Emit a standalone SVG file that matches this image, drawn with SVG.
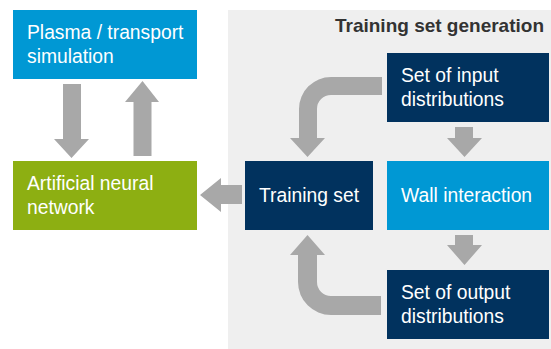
<svg xmlns="http://www.w3.org/2000/svg" width="551" height="349" viewBox="0 0 551 349">
  <style>
    .lbl { font-family: "Liberation Sans", Arial, sans-serif; font-size: 19.3px; fill: #ffffff; }
    .title { font-family: "Liberation Sans", Arial, sans-serif; font-size: 19px; font-weight: bold; fill: #333333; }
    .sky { fill: #0098d4; }
    .navy { fill: #01325e; }
    .leaf { fill: #8daf12; }
    .arrow { fill: #a8a8a8; }
  </style>
  <rect width="551" height="349" fill="#ffffff"/>

  <!-- training set generation panel -->
  <g id="panel">
    <rect x="228" y="10" width="323" height="339" fill="#efefef"/>
    <text class="title" x="544" y="32" text-anchor="end">Training set generation</text>
  </g>

  <g id="plasma">
    <rect class="sky" x="13" y="10" width="184" height="69"/>
    <text class="lbl" x="27" y="39">Plasma / transport</text>
    <text class="lbl" x="27" y="63">simulation</text>
  </g>

  <g id="ann">
    <rect class="leaf" x="13" y="161" width="184" height="69"/>
    <text class="lbl" x="27" y="190">Artificial neural</text>
    <text class="lbl" x="27" y="214">network</text>
  </g>

  <g id="training-set">
    <rect class="navy" x="245" y="161" width="128" height="69"/>
    <text class="lbl" x="259" y="202">Training set</text>
  </g>

  <g id="input-dist">
    <rect class="navy" x="387" y="53" width="162" height="69"/>
    <text class="lbl" x="401" y="82">Set of input</text>
    <text class="lbl" x="401" y="106">distributions</text>
  </g>

  <g id="wall">
    <rect class="sky" x="387" y="161" width="162" height="69"/>
    <text class="lbl" x="401" y="202">Wall interaction</text>
  </g>

  <g id="output-dist">
    <rect class="navy" x="387" y="270" width="162" height="69"/>
    <text class="lbl" x="401" y="299">Set of output</text>
    <text class="lbl" x="401" y="323">distributions</text>
  </g>

  <!-- block arrows -->
  <g id="connectors" class="arrow">
    <!-- plasma -> ANN -->
    <path d="M63 84 H81 V139 H89 L71.5 158 L54 139 H63 Z"/>
    <!-- ANN -> plasma -->
    <path d="M133.5 156 H151.5 V102 H159 L142.5 81 L125 102 H133.5 Z"/>
    <!-- training set -> ANN -->
    <path d="M242 185 V204 H221 V212 L200 195 L221 178 V185 Z"/>
    <!-- input distributions -> training set -->
    <path d="M382 77 H331 A32 32 0 0 0 299 109 V138 H290 L307.5 157 L325 138 H317 V109 A14 14 0 0 1 331 95 H382 Z"/>
    <!-- output distributions -> training set -->
    <path d="M381 315 H331 A33 33 0 0 1 298 282 V255 H290 L307.5 235 L325 255 H317 V282 A14 14 0 0 0 331 296 H381 Z"/>
    <!-- input distributions -> wall interaction -->
    <path d="M455 127 H473 V138 H482 L464.5 157 L447 138 H455 Z"/>
    <!-- wall interaction -> output distributions -->
    <path d="M455 235 H473 V245 H482 L464.5 265 L447 245 H455 Z"/>
  </g>
</svg>
